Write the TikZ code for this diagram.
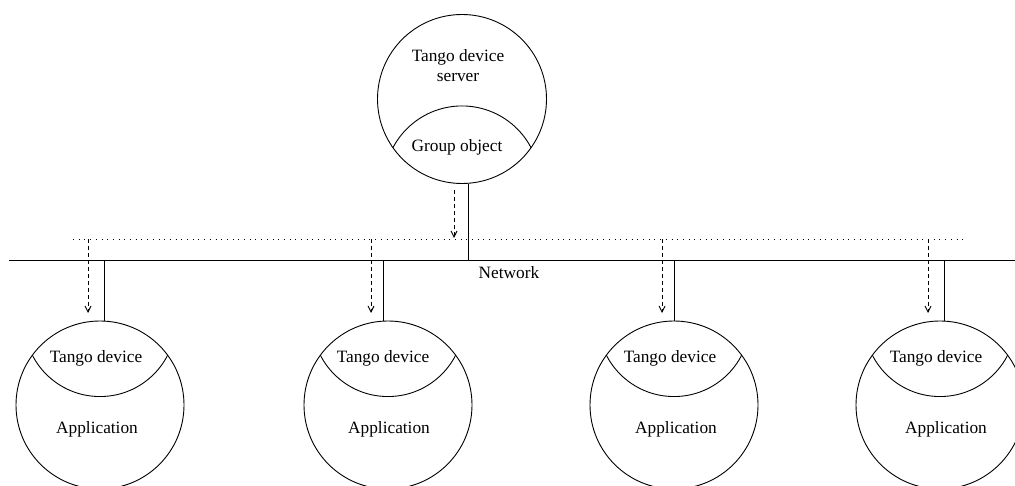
\documentclass[tikz,border=0pt]{standalone}
\usepackage{fontspec}
\setmainfont{Liberation Serif}
\usetikzlibrary{arrows.meta}
\begin{document}
\begin{tikzpicture}[x=1pt,y=-1pt,line width=0.9pt,
  unit/.style={circle,draw,minimum size=168pt,inner sep=0pt},
  lbl/.style={font=\fontsize{17.3}{19.5}\selectfont,inner sep=0pt,align=center},
  msg/.style={dash pattern=on 4pt off 3pt,-{Straight Barb[length=6pt,width=6pt]}},
  bus/.style={dash pattern=on 1pt off 4.7pt}]
\useasboundingbox (0,0) rectangle (1015,486);
% server
\node[unit,minimum size=169pt] (srv) at (462,99) {};
\begin{scope}
  \clip (462,99) circle (84.5pt);
  \draw (srv.south) circle (78pt);
\end{scope}
\node[lbl] (srvtxt) at (458,65.5) {Tango device\\server};
\node[lbl] (grp) at (457,147) {Group object};
% network
\coordinate (netL) at (9,260);
\coordinate (netR) at (1015,260);
\draw (netL) -- (netR);
\coordinate (dotL) at (73,239);
\coordinate (dotR) at (967,239);
\draw[bus] (dotL) -- (dotR);
\node[lbl] (netlbl) at (509,273) {Network};
\coordinate (tap0) at (468.5,260);
\draw (tap0 |- srv.south) -- (tap0);
\coordinate (s0) at (454,190);
\coordinate (e0) at (454,238);
\draw[msg] (s0) -- (e0);
% applications
\foreach \i/\cx/\lx/\dx/\tx/\ax in {1/100/104/88/96/97, 2/388/383/371/383/389, 3/674/674/662/670/676, 4/940/944/928/936/946}{
  \node[unit] (app\i) at (\cx,405) {};
  \begin{scope}
    \clip (\cx,405) circle (84pt);
    \draw (app\i.north) circle (76pt);
  \end{scope}
  \node[lbl] (dev\i) at (\tx,358) {Tango device};
  \node[lbl] (apl\i) at (\ax,429) {Application};
  \coordinate (tap\i) at (\lx,260);
  \draw (tap\i) -- (tap\i |- app\i.north);
  \coordinate (s\i) at (\dx,239);
  \coordinate (e\i) at (\dx,313);
  \draw[msg] (s\i) -- (e\i);
}
\end{tikzpicture}
\end{document}
